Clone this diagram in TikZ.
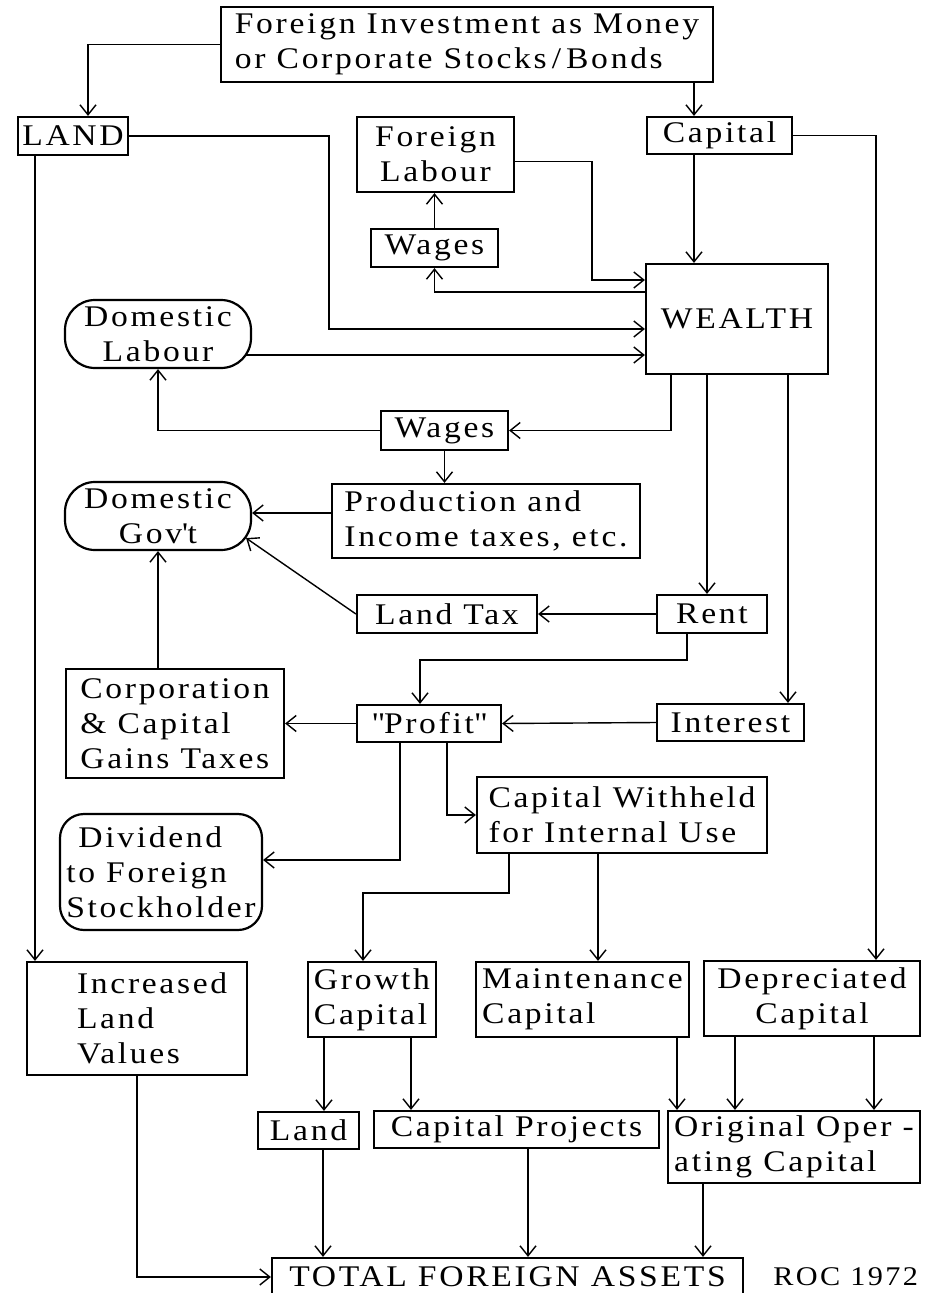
\documentclass[tikz,border=0pt]{standalone}
\usepackage{fontspec}
\setmainfont{Liberation Serif}[FakeStretch=1.12,LetterSpace=9]
\usetikzlibrary{arrows.meta,positioning}

\begin{document}
\begin{tikzpicture}[
    x=1pt, y=-1pt,
    every node/.style={font=\fontsize{30}{35}\selectfont},
    box/.style={draw, line width=2.2pt, inner sep=0pt, align=center},
    soft/.style={box, rounded corners=30pt},
    flow/.style={line width=1.4pt, -{Straight Barb[length=10pt,width=16pt]}}
  ]
  \useasboundingbox (0,0) rectangle (929,1293);

  \node[box, minimum width=492, minimum height=75, align=left] (top) at (467,44.5) {Foreign Investment as Money\\or Corporate Stocks\,/\,Bonds};
  \node[box, minimum width=110, minimum height=38] (land) at (73,136) {LAND};
  \node[box, minimum width=157, minimum height=75] (flab) at (435.5,154.5) {Foreign\\Labour};
  \node[box, minimum width=145, minimum height=37] (capital) at (719.5,135.5) {Capital};
  \node[box, minimum width=127, minimum height=38] (wagesA) at (434.5,248) {Wages};
  \node[box, minimum width=182, minimum height=110] (wealth) at (737,319) {WEALTH};
  \node[soft, minimum width=186, minimum height=68] (dlab) at (158,334) {Domestic\\Labour};
  \node[box, minimum width=127, minimum height=39] (wagesB) at (444.5,430.5) {Wages};
  \node[box, minimum width=308, minimum height=74, align=left] (prod) at (486,521) {Production and\\Income taxes, etc.};
  \node[soft, minimum width=186, minimum height=68] (dgov) at (158,516) {Domestic\\Gov\textquotesingle t};
  \node[box, minimum width=180, minimum height=38] (landtax) at (447,614) {Land Tax};
  \node[box, minimum width=110, minimum height=38] (rent) at (712,614) {Rent};
  \node[box, minimum width=218, minimum height=109, align=left] (corp) at (175,723.5) {Corporation\\\& Capital\\Gains Taxes};
  \node[box, minimum width=144, minimum height=37] (profit) at (429,723.5) {\textquotedbl Profit\textquotedbl};
  \node[box, minimum width=147, minimum height=37] (interest) at (730.5,722.5) {Interest};
  \node[box, minimum width=290, minimum height=76, align=left] (withheld) at (622,815) {Capital Withheld\\for Internal Use};
  \node[soft, rounded corners=24pt, minimum width=202, minimum height=116, align=left] (dividend) at (161,872) {\hspace*{12pt}Dividend\\to Foreign\\Stockholder};
  \node[box, minimum width=220, minimum height=113, text width=212, inner xsep=4pt, align=left] (incland) at (137,1018.5) {\hspace*{46pt}Increased\\\hspace*{46pt}Land\\\hspace*{46pt}Values};
  \node[box, minimum width=128, minimum height=75, align=left] (growth) at (372,999.5) {Growth\\Capital};
  \node[box, minimum width=213, minimum height=75, align=left] (maint) at (582.5,999.5) {Maintenance\\Capital};
  \node[box, minimum width=216, minimum height=75] (depr) at (812,998.5) {Depreciated\\Capital};
  \node[box, minimum width=101, minimum height=37] (landb) at (308.5,1130.5) {Land};
  \node[box, minimum width=285, minimum height=37] (capproj) at (516.5,1129.5) {Capital Projects};
  \node[box, minimum width=252, minimum height=72, align=left] (orig) at (794,1147) {Original Oper -\\ating Capital};
  \node[box, minimum width=471, minimum height=38] (total) at (507.5,1277) {TOTAL FOREIGN ASSETS};
  \node[right=29pt of total, inner sep=0pt, font=\fontsize{27}{35}\selectfont] (roc) {ROC 1972};

  \coordinate (kLand) at (88,0);
  \coordinate (kCap) at (694,0);
  \coordinate (kLW) at (329,329);
  \coordinate (kFW) at (592,280);
  \coordinate (kWW) at (435,292);
  \coordinate (kCD) at (876,0);
  \coordinate (kLI) at (35,0);
  \coordinate (kDW) at (0,355);
  \coordinate (kW1) at (671,0);
  \coordinate (kPG) at (0,513);
  \coordinate (kW2) at (707,0);
  \coordinate (kW3) at (788,0);
  \coordinate (kR) at (687,0);
  \coordinate (kRP) at (420,660);
  \coordinate (kPD) at (400,860);
  \coordinate (kPW) at (447,0);
  \coordinate (kWG) at (509,0);
  \coordinate (kGG) at (363,893);
  \coordinate (kWM) at (598,0);
  \coordinate (kGL) at (324,0);
  \coordinate (kGP) at (411,0);
  \coordinate (kMO) at (677,0);
  \coordinate (kDO1) at (735,0);
  \coordinate (kDO2) at (874,0);
  \coordinate (kLT) at (323,0);
  \coordinate (kCT) at (528,0);
  \coordinate (kOT) at (703,0);

  \draw[flow] (top.west) -| (land.north -| kLand);
  \draw[flow] (top.south -| kCap) -- (capital.north -| kCap);
  \draw[flow] (capital.south -| kCap) -- (wealth.north -| kCap);
  \draw[flow] (land.east) -| (kLW) -- (wealth.west |- kLW);
  \draw[flow] ([yshift=-7pt]flab.east) -| (kFW) -- (wealth.west |- kFW);
  \draw[flow] (wealth.west |- kWW) -| (wagesA.south);
  \draw[flow] (wagesA.north) -- (wagesA.north |- flab.south);
  \draw[flow] (capital.east) -| (depr.north -| kCD);
  \draw[flow] (land.south -| kLI) -- (incland.north -| kLI);
  \draw[flow] ([xshift=-6pt]dlab.east |- kDW) -- (wealth.west |- kDW);
  \draw[flow] (wealth.south -| kW1) |- (wagesB.east);
  \draw[flow] (wagesB.west) -| (dlab.south);
  \draw[flow] (wagesB.south) -- (wagesB.south |- prod.north);
  \draw[flow] (prod.west |- kPG) -- (dgov.east |- kPG);
  \draw[flow] (wealth.south -| kW2) -- (rent.north -| kW2);
  \draw[flow] (wealth.south -| kW3) -- (interest.north -| kW3);
  \draw[flow] (rent.west) -- (landtax.east);
  \draw[flow] (landtax.west) -- ([xshift=-6pt,yshift=13pt]dgov.south east);
  \draw[flow] (corp.north -| dgov.south) -- (dgov.south);
  \draw[flow] (rent.south -| kR) |- (kRP) -- (kRP |- profit.north);
  \draw[flow] (interest.west) -- (profit.east);
  \draw[flow] (profit.west) -- (corp.east |- profit.west);
  \draw[flow] (profit.south -| kPD) |- (dividend.east |- kPD);
  \draw[flow] (profit.south -| kPW) |- (withheld.west);
  \draw[flow] (withheld.south -| kWG) |- (kGG) -- (kGG |- growth.north);
  \draw[flow] (withheld.south -| kWM) -- (maint.north -| kWM);
  \draw[flow] (growth.south -| kGL) -- (landb.north -| kGL);
  \draw[flow] (growth.south -| kGP) -- (capproj.north -| kGP);
  \draw[flow] (maint.south -| kMO) -- (orig.north -| kMO);
  \draw[flow] (depr.south -| kDO1) -- (orig.north -| kDO1);
  \draw[flow] (depr.south -| kDO2) -- (orig.north -| kDO2);
  \draw[flow] (incland.south) |- (total.west);
  \draw[flow] (landb.south -| kLT) -- (total.north -| kLT);
  \draw[flow] (capproj.south -| kCT) -- (total.north -| kCT);
  \draw[flow] (orig.south -| kOT) -- (total.north -| kOT);
\end{tikzpicture}
\end{document}
